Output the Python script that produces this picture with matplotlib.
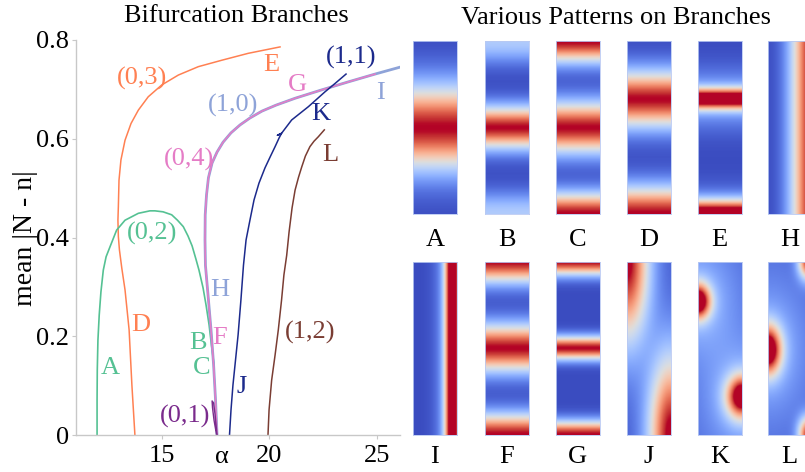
import numpy as np
import matplotlib
matplotlib.use('Agg')
import matplotlib.pyplot as plt

plt.rcParams['font.family'] = ['Liberation Serif', 'DejaVu Serif']

# ---- branch data (alpha, mean|N-n|) ----
green_a = [11.98, 11.98, 11.99, 12.02, 12.08, 12.16, 12.27, 12.4, 12.58, 12.89, 13.28,
           13.9, 14.44, 14.67, 15.05, 15.45, 15.72, 15.99, 16.21, 16.4, 16.58, 16.72,
           16.91, 17.05, 17.19, 17.3, 17.42]
green_y = [0.0, 0.071, 0.132, 0.192, 0.243, 0.29, 0.334, 0.361, 0.381, 0.415, 0.435,
           0.449, 0.454, 0.454, 0.452, 0.446, 0.435, 0.422, 0.403, 0.383, 0.356, 0.334,
           0.298, 0.263, 0.223, 0.182, 0.142]

orange_a = [13.74, 13.6, 13.47, 13.28, 13.13, 13.02, 12.97, 12.95, 12.97, 13.0, 13.09,
            13.28, 13.56, 13.9, 14.36, 14.99, 15.76, 16.69, 17.78, 19.01, 20.49]
orange_y = [0.0, 0.101, 0.213, 0.294, 0.338, 0.375, 0.402, 0.435, 0.462, 0.516, 0.557,
            0.597, 0.631, 0.658, 0.685, 0.709, 0.729, 0.746, 0.759, 0.773, 0.786]

pink_a = [17.56, 17.49, 17.4, 17.28, 17.14, 17.02, 17.0, 17.01, 17.07, 17.16, 17.33,
          17.56, 17.84, 18.21, 18.63, 19.09, 19.65, 20.3, 21.19, 22.43, 23.65, 24.91]
pink_y = [0.0, 0.071, 0.142, 0.213, 0.284, 0.344, 0.395, 0.446, 0.486, 0.521, 0.551,
          0.573, 0.593, 0.612, 0.628, 0.642, 0.656, 0.668, 0.682, 0.699, 0.715, 0.731]

lblue_a = pink_a + [26.07]
lblue_y = pink_y + [0.745]

navy_a = [18.14, 18.21, 18.3, 18.42, 18.54, 18.67, 18.79, 18.91, 19.09, 19.28, 19.51,
          19.79, 20.05, 20.26, 20.44, 20.56, 20.37, 20.56, 21.03, 21.81, 22.58, 23.05,
          23.56]
navy_y = [0.0, 0.051, 0.101, 0.152, 0.203, 0.273, 0.344, 0.395, 0.435, 0.476, 0.51,
          0.541, 0.565, 0.584, 0.601, 0.611, 0.607, 0.611, 0.638, 0.665, 0.695, 0.712,
          0.731]

brown_a = [19.93, 19.98, 20.1, 20.26, 20.41, 20.56, 20.67, 20.8, 20.91, 21.05, 21.19,
           21.35, 21.5, 21.67, 21.88, 22.07, 22.27, 22.55]
brown_y = [0.0, 0.051, 0.111, 0.162, 0.213, 0.273, 0.324, 0.364, 0.411, 0.46, 0.496,
           0.522, 0.543, 0.565, 0.584, 0.595, 0.604, 0.618]

purple_a = [17.54, 17.42, 17.35, 17.33, 17.4, 17.47, 17.56]
purple_y = [0.0, 0.03, 0.055, 0.069, 0.065, 0.041, 0.0]

c_green = '#55c193'
c_orange = '#ff8052'
c_pink = '#e57cc6'
c_lblue = '#8ea3d8'
c_navy = '#1c2a8c'
c_brown = '#7a3d33'
c_purple = '#7a2b8c'

# branch labels: text, alpha, value, colour
labels = [
    ('(0,3)', 14.07, 0.723, c_orange), ('E', 20.07, 0.749, c_orange),
    ('(1,1)', 23.79, 0.764, c_navy), ('G', 21.28, 0.709, c_pink),
    ('I', 25.14, 0.693, c_lblue), ('(1,0)', 18.30, 0.668, c_lblue),
    ('K', 22.40, 0.650, c_navy), ('(0,4)', 16.26, 0.559, c_pink),
    ('L', 22.81, 0.567, c_brown), ('(0,2)', 14.52, 0.408, c_green),
    ('D', 14.02, 0.223, c_orange), ('A', 12.58, 0.136, c_green),
    ('H', 17.70, 0.294, c_lblue), ('B', 16.69, 0.186, c_green),
    ('F', 17.70, 0.196, c_pink), ('C', 16.85, 0.135, c_green),
    ('J', 18.71, 0.098, c_navy), ('(1,2)', 21.88, 0.207, c_brown),
    ('(0,1)', 16.07, 0.037, c_purple),
]

# ---- pattern panels: blobs (cx, cy, rx, ry, amp); None = stripe across that axis ----
row1 = ['A', 'B', 'C', 'D', 'E', 'H']
row2 = ['I', 'F', 'G', 'J', 'K', 'L']
base = {'A': 0.0, 'B': 0.0, 'C': 0.0, 'D': 0.0, 'E': 0.0, 'H': 0.0,
        'I': 0.0, 'F': 0.0, 'G': 0.0, 'J': 0.04, 'K': 0.08, 'L': 0.08}
blobs = {
    'A': [(None, 0.5, None, 0.24, 1.0)],
    'B': [(None, 0.5, None, 0.12, 1.0), (None, 0.0, None, 0.12, 0.35),
          (None, 1.0, None, 0.12, 0.35)],
    'C': [(None, 0.5, None, 0.145, 1.0), (None, 0.0, None, 0.12, 1.0),
          (None, 1.0, None, 0.12, 1.0)],
    'D': [(None, 0.335, None, 0.16, 1.0), (None, 1.0, None, 0.155, 1.0)],
    'E': [(None, 0.333, None, 0.06, 1.0), (None, 0.333, None, 0.16, 0.25),
          (None, 1.0, None, 0.078, 1.0), (None, 1.0, None, 0.14, 0.2)],
    'H': [(1.0, None, 0.47, None, 1.0)],
    'I': [(0.9, None, 0.17, None, 1.0), (0.9, None, 0.35, None, 0.25)],
    'F': [(None, 0.5, None, 0.135, 1.0), (None, 0.0, None, 0.12, 1.0),
          (None, 1.0, None, 0.12, 1.0)],
    'G': [(None, 0.5, None, 0.066, 1.0), (None, 0.0, None, 0.078, 1.0),
          (None, 1.0, None, 0.078, 1.0)],
    'J': [(0.0, 0.0, 0.5, 0.45, 1.0), (1.0, 1.0, 0.5, 0.45, 1.0)],
    'K': [(0.0, 0.23, 0.28, 0.1, 1.0), (0.0, 0.23, 0.8, 0.3, 0.22),
          (1.0, 0.78, 0.34, 0.12, 0.95), (1.0, 0.78, 0.8, 0.3, 0.22)],
    'L': [(0.0, 0.51, 0.3, 0.14, 1.0), (0.0, 0.51, 0.8, 0.35, 0.2),
          (0.92, 0.0, 0.22, 0.1, 0.9), (0.92, 1.0, 0.22, 0.1, 0.9)],
}


def pattern(name):
    xx, yy = np.meshgrid(np.linspace(0, 1, 60), np.linspace(0, 1, 220))
    f = np.full(xx.shape, base[name])
    for cx, cy, rx, ry, amp in blobs[name]:
        d = np.zeros_like(xx)
        if cx is not None:
            d += ((xx - cx) / rx) ** 2
        if cy is not None:
            d += ((yy - cy) / ry) ** 2
        f += amp * np.exp(-d)
    return np.clip(f, 0, 1)


W, H = 805, 472
fig = plt.figure(figsize=(W / 100, H / 100), dpi=100)

ax = fig.add_axes([76 / W, 37 / H, 324 / W, 395 / H])
ax.plot(orange_a, orange_y, color=c_orange, lw=1.1)
ax.plot(green_a, green_y, color=c_green, lw=1.2)
ax.plot(lblue_a, lblue_y, color=c_lblue, lw=2.0)
ax.plot(pink_a, pink_y, color=c_pink, lw=1.1)
ax.plot(purple_a, purple_y, color=c_purple, lw=1.0)
ax.plot(navy_a, navy_y, color=c_navy, lw=1.1)
ax.plot(brown_a, brown_y, color=c_brown, lw=1.1)
for t, a, v, c in labels:
    ax.text(a, v, t, color=c, fontsize=19, ha='center', va='center')

ax.set_xlim(11.0, 26.07)
ax.set_ylim(0, 0.8)
ax.set_xticks([15, 20, 25])
ax.set_xticklabels(['15', '20', '25'])
ax.set_yticks([0, 0.2, 0.4, 0.6, 0.8])
ax.set_yticklabels(['0', '0.2', '0.4', '0.6', '0.8'])
ax.tick_params(labelsize=19, length=3, color='#c8c8c8', pad=2)
ax.tick_params(axis='x', pad=4)
for s in ['top', 'right']:
    ax.spines[s].set_visible(False)
for s in ['left', 'bottom']:
    ax.spines[s].set_color('#c8c8c8')
    ax.spines[s].set_linewidth(1.0)
ax.text(17.8, -0.044, 'α', fontsize=19, ha='center', va='center', clip_on=False)

fig.text(236 / W, 1 - 16 / H, 'Bifurcation Branches', fontsize=19, ha='center', va='center')
fig.text(616 / W, 1 - 18 / H, 'Various Patterns on Branches', fontsize=19, ha='center', va='center')
fig.text(25 / W, 1 - 238 / H, 'mean |N - n|', fontsize=20, rotation=90, ha='center', va='center')

col_x = [413, 485, 556, 627, 698, 768]
row_top = [41, 262]
label_y = [240, 457]
for r, names in enumerate([row1, row2]):
    for c, name in enumerate(names):
        iax = fig.add_axes([col_x[c] / W, (H - row_top[r] - 173) / H, 43.5 / W, 173 / H])
        iax.imshow(pattern(name), cmap='coolwarm', vmin=0, vmax=1, aspect='auto',
                   extent=[0, 1, 1, 0], interpolation='bilinear')
        iax.set_xticks([])
        iax.set_yticks([])
        for s in iax.spines.values():
            s.set_color('#b9c9f2')
            s.set_linewidth(0.6)
        fig.text((col_x[c] + 21.75) / W, 1 - label_y[r] / H, name, fontsize=19,
                 ha='center', va='center')

fig.savefig('out.png', dpi=100)
